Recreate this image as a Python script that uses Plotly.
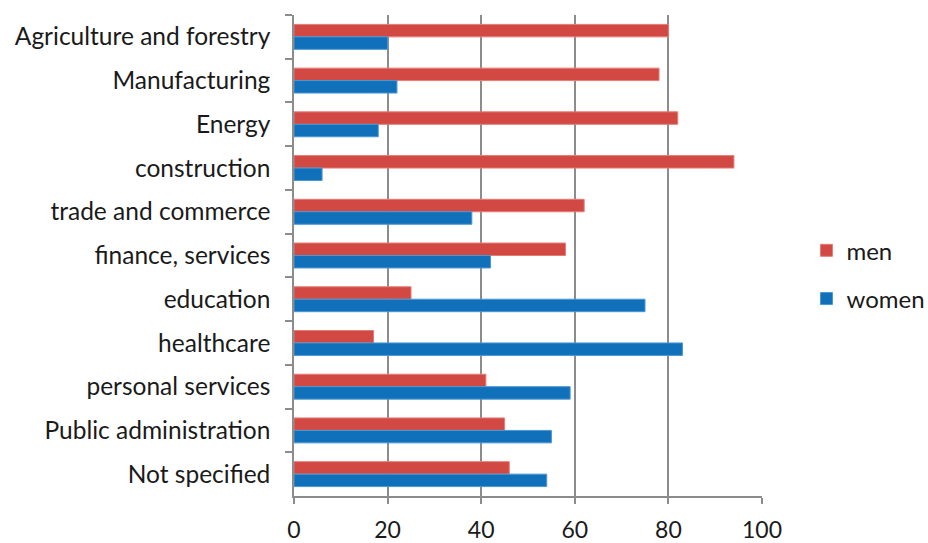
import plotly.graph_objects as go

categories = ["Agriculture and forestry", "Manufacturing", "Energy", "construction",
              "trade and commerce", "finance, services", "education", "healthcare",
              "personal services", "Public administration", "Not specified"]
men = [80, 78, 82, 94, 62, 58, 25, 17, 41, 45, 46]
women = [20, 22, 18, 6, 38, 42, 75, 83, 59, 55, 54]
x_ticks = [0, 20, 40, 60, 80, 100]

FONT = "Lato"
fig = go.Figure()
fig.add_trace(go.Bar(y=categories, x=men, orientation="h", name="men",
                     legendgroup="m",
                     marker=dict(color="#D24842", line=dict(color="#E37C77", width=1))))
fig.add_trace(go.Bar(y=categories, x=women, orientation="h", name="women",
                     legendgroup="w",
                     marker=dict(color="#1071BA", line=dict(color="#4A97D2", width=1))))

fig.update_layout(
    width=928, height=543,
    margin=dict(l=294, r=166, t=15, b=47, autoexpand=False),
    paper_bgcolor="white", plot_bgcolor="white",
    barmode="group", bargap=0.43, bargroupgap=0,
    font=dict(family=FONT, size=24.5, color="#1a1a1a"),
    showlegend=True,
    legend=dict(x=1.095, y=0.46, xanchor="left", yanchor="middle",
                tracegroupgap=14, font=dict(size=24, family=FONT),
                itemwidth=30, bgcolor="rgba(0,0,0,0)"),
    xaxis=dict(range=[0, 100], tickvals=x_ticks, ticktext=[str(v) for v in x_ticks],
               showgrid=True, gridcolor="#8c8c8c", gridwidth=1.5,
               showline=True, linecolor="#8c8c8c", linewidth=1.5,
               ticks="outside", ticklen=6, tickcolor="#8c8c8c", tickwidth=1.5,
               zeroline=False, fixedrange=True, ticklabelstandoff=7,
               automargin=False, tickfont=dict(size=23)),
    yaxis=dict(autorange="reversed", showgrid=False,
               showline=True, linecolor="#8c8c8c", linewidth=1.5,
               ticks="outside", tickson="boundaries", ticklen=7,
               tickcolor="#8c8c8c", tickwidth=1.5, ticklabelstandoff=17,
               automargin=False),
)
fig.write_html("out.html", config={"displayModeBar": False},
               post_script="document.body.style.margin='0px';")
